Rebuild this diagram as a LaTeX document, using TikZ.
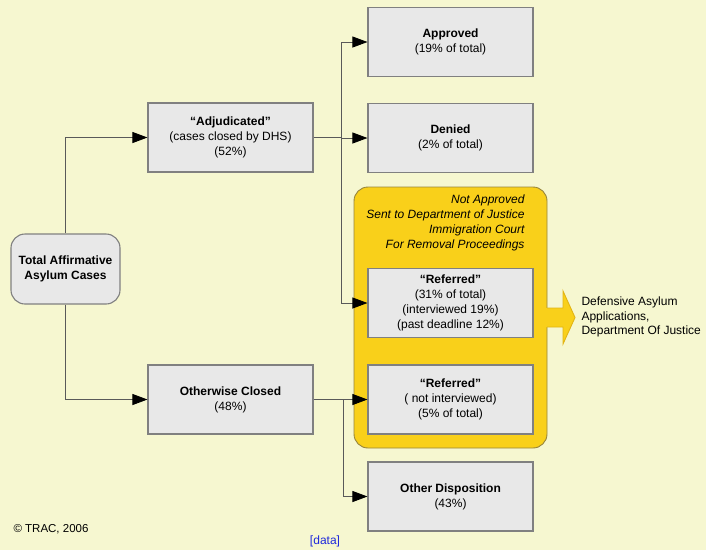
\documentclass[tikz,border=0pt]{standalone}
\usepackage{fontspec}
\setmainfont{Liberation Sans}
\usetikzlibrary{arrows.meta}
\definecolor{bgc}{RGB}{246,247,208}
\definecolor{boxc}{RGB}{232,232,232}
\definecolor{refc}{RGB}{249,208,26}
\definecolor{refl}{RGB}{150,132,60}
\definecolor{arrl}{RGB}{226,180,20}
\definecolor{datc}{RGB}{30,40,220}

\begin{document}
\begin{tikzpicture}[x=1pt,y=-1pt,font=\fontsize{12}{14.8}\selectfont,
  box/.style={draw=black!50,fill=boxc,line width=1.1pt,minimum width=165pt,minimum height=69pt,align=center,inner sep=2pt},
  rbox/.style={box,rounded corners=14pt,minimum width=109pt,minimum height=70pt},
  grp/.style={draw=refl,fill=refc,line width=0.9pt,rounded corners=14pt,minimum width=193pt,minimum height=261pt},
  con/.style={draw=black!65,line width=0.8pt,-{Triangle[length=15pt,width=11pt,color=black]}},
  lnk/.style={draw=black!65,line width=0.8pt}]
% --- background ---
\fill[bgc] (0,0) rectangle (706,550);
% --- source and first split ---
\node[rbox] (tot) at (65.5,269) {\textbf{Total Affirmative}\\\textbf{Asylum Cases}};
\node[box] (adj) at (230.5,137.5) {\textbf{“Adjudicated”}\\(cases closed by DHS)\\(52\%)};
\node[box] (oth) at (230.5,399.5) {\textbf{Otherwise Closed}\\(48\%)};
% --- referred group ---
\node[grp] (grp) at (450.5,317.5) {};
\node[align=right,anchor=east,font=\fontsize{12}{14.8}\selectfont\itshape] (hdr) at (528,223)
  {Not Approved\\Sent to Department of Justice\\Immigration Court\\For Removal Proceedings};
\fill[refc] (546,308) -- (563,308) -- (563,291) -- (575,317.5) -- (563,344) -- (563,327) -- (546,327) -- cycle;
\draw[arrl,line width=0.9pt] (547,308) -- (563,308) -- (563,291) -- (575,317.5) -- (563,344) -- (563,327) -- (547,327);
\node[align=left,anchor=west] (def) at (578,317) {Defensive Asylum\\Applications,\\Department Of Justice};
% --- outcomes ---
\node[box] (apr) at (450.5,42) {\textbf{Approved}\\(19\% of total)};
\node[box] (den) at (450.5,138) {\textbf{Denied}\\(2\% of total)};
\node[box] (ref) at (450.5,303) {\textbf{“Referred”}\\(31\% of total)\\(interviewed 19\%)\\(past deadline 12\%)};
\node[box] (rfn) at (450.5,399.5) {\textbf{“Referred”}\\( not interviewed)\\(5\% of total)};
\node[box] (odp) at (450.5,496.5) {\textbf{Other Disposition}\\(43\%)};
% --- connectors ---
\coordinate (ja) at (341,137.5);
\coordinate (jb) at (343,399.5);
\draw[con] (tot.north) |- (adj.west);
\draw[con] (tot.south) |- (oth.west);
\draw[lnk] (adj.east) -- (ja);
\draw[con] (ja) |- (apr.west);
\draw[con] (ja) |- (den.west);
\draw[con] (ja) |- (ref.west);
\draw[con] (oth.east) -- (rfn.west);
\draw[con] (jb) |- (odp.west);
% --- footer ---
\node[anchor=west,font=\fontsize{11.5}{13}\selectfont] (cpy) at (10,529) {© TRAC, 2006};
\node[text=datc,font=\fontsize{12}{13}\selectfont] (dat) at (325,541) {[data]};
\end{tikzpicture}
\end{document}
